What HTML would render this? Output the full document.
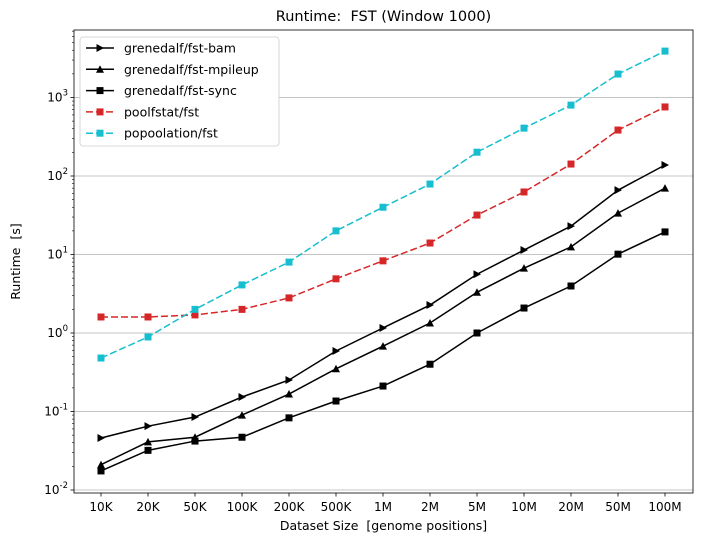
<!DOCTYPE html>
<html><head><meta charset="utf-8"><style>
body{margin:0;background:#fff;font-family:"Liberation Sans","DejaVu Sans",sans-serif;}
svg text{font-family:"DejaVu Sans","Liberation Sans",sans-serif;white-space:pre;}
</style></head><body>
<svg id="chart" width="702" height="543"></svg>
<script>
const categories=["10K","20K","50K","100K","200K","500K","1M","2M","5M","10M","20M","50M","100M"];
const bamValues=[0.046,0.065,0.085,0.153,0.252,0.59,1.16,2.27,5.6,11.4,23,66,138];
const mpileupValues=[0.021,0.041,0.047,0.090,0.167,0.35,0.68,1.34,3.3,6.7,12.5,33.7,70];
const syncValues=[0.0175,0.032,0.042,0.047,0.083,0.136,0.211,0.40,1.0,2.08,3.97,10.1,19.4];
const poolfstatValues=[1.6,1.6,1.7,2.0,2.8,4.9,8.3,14,31.8,62.6,142,385,758];
const popoolationValues=[0.48,0.89,2.0,4.1,8.0,20,40,79,201,407,800,1990,3900];
const yTickExps=[-2,-1,0,1,2,3];

const svg=document.getElementById('chart');
const NS='http://www.w3.org/2000/svg';
const L=74,R=693,T=30,B=493;
const x=i=>101+i*(665-101)/(categories.length-1);
const y=v=>333-Math.log10(v)*78.5;
function mk(tag,attrs,parent){const e=document.createElementNS(NS,tag);for(const k in attrs)e.setAttribute(k,attrs[k]);(parent||svg).appendChild(e);return e;}

yTickExps.forEach(p=>{const g=mk('line',{x1:L,x2:R,y1:y(Math.pow(10,p)),y2:y(Math.pow(10,p)),stroke:'#b0b0b0','stroke-width':0.8});

});
const fr=mk('rect',{x:L,y:T,width:R-L,height:B-T,fill:'none',stroke:'#000','stroke-width':0.8});


yTickExps.forEach(p=>{const yy=y(Math.pow(10,p));
mk('line',{x1:L-3.5,x2:L,y1:yy,y2:yy,stroke:'#000','stroke-width':0.8});
const t=mk('text',{x:L-6,y:yy+4,'text-anchor':'end','font-size':12});


t.innerHTML='10<tspan dy="-6" font-size="8.5">'+p+'</tspan>';
for(let m=2;m<10;m++){const ym=y(m*Math.pow(10,p));if(ym>T&&ym<B)mk('line',{x1:L-2,x2:L,y1:ym,y2:ym,stroke:'#000','stroke-width':0.6});}
});
categories.forEach((c,i)=>{mk('line',{x1:x(i),x2:x(i),y1:B,y2:B+3.5,stroke:'#000','stroke-width':0.8});
const t=mk('text',{x:x(i),y:B+18,'text-anchor':'middle','font-size':12});t.textContent=c;

});
let t=mk('text',{x:(L+R)/2,y:21,'text-anchor':'middle','font-size':14.5});t.textContent='Runtime:  FST (Window 1000)';

t=mk('text',{x:(L+R)/2,y:530,'text-anchor':'middle','font-size':12.5});t.textContent='Dataset Size  [genome positions]';

t=mk('text',{x:20,y:(T+B)/2,'text-anchor':'middle','font-size':12.5,transform:'rotate(-90 20 '+(T+B)/2+')'});t.textContent='Runtime  [s]';


function marker(kind,cx,cy,color,parent){
 if(kind==='tr')return mk('polygon',{points:`${cx-3.5},${cy-4} ${cx+4},${cy} ${cx-3.5},${cy+4}`,fill:color},parent);
 if(kind==='tu')return mk('polygon',{points:`${cx-4},${cy+3.5} ${cx},${cy-4} ${cx+4},${cy+3.5}`,fill:color},parent);
 return mk('rect',{x:cx-3.5,y:cy-3.5,width:7,height:7,fill:color},parent);
}
const series=[
 {name:'grenedalf/fst-bam',vals:bamValues,color:'#000',m:'tr',dash:null},
 {name:'grenedalf/fst-mpileup',vals:mpileupValues,color:'#000',m:'tu',dash:null},
 {name:'grenedalf/fst-sync',vals:syncValues,color:'#000',m:'sq',dash:null},
 {name:'poolfstat/fst',vals:poolfstatValues,color:'#d62728',m:'sq',dash:'7,3'},
 {name:'popoolation/fst',vals:popoolationValues,color:'#17becf',m:'sq',dash:'7,3'}];
series.forEach((s,k)=>{
 const g=mk('g',{});
 
 
 const p=mk('polyline',{points:s.vals.map((v,i)=>x(i)+','+y(v)).join(' '),fill:'none',stroke:s.color,'stroke-width':1.5},g);
 if(s.dash)p.setAttribute('stroke-dasharray',s.dash);
 s.vals.forEach((v,i)=>{const mm=marker(s.m,x(i),y(v),s.color,g);
 
 });
});
const lg=mk('g',{});


mk('rect',{x:80,y:37,width:199,height:109,rx:3,fill:'#fff',stroke:'#ccc','stroke-width':0.8},lg);
series.forEach((s,k)=>{const yy=48+k*21.3;
 const e=mk('g',{},lg);
 
 
 const l=mk('line',{x1:86,x2:114,y1:yy,y2:yy,stroke:s.color,'stroke-width':1.5},e);
 if(s.dash)l.setAttribute('stroke-dasharray','7,3');
 marker(s.m,100,yy,s.color,e);
 const tt=mk('text',{x:124,y:yy+4.5,'font-size':12.5},e);tt.textContent=s.name;
});
</script>
</body></html>
